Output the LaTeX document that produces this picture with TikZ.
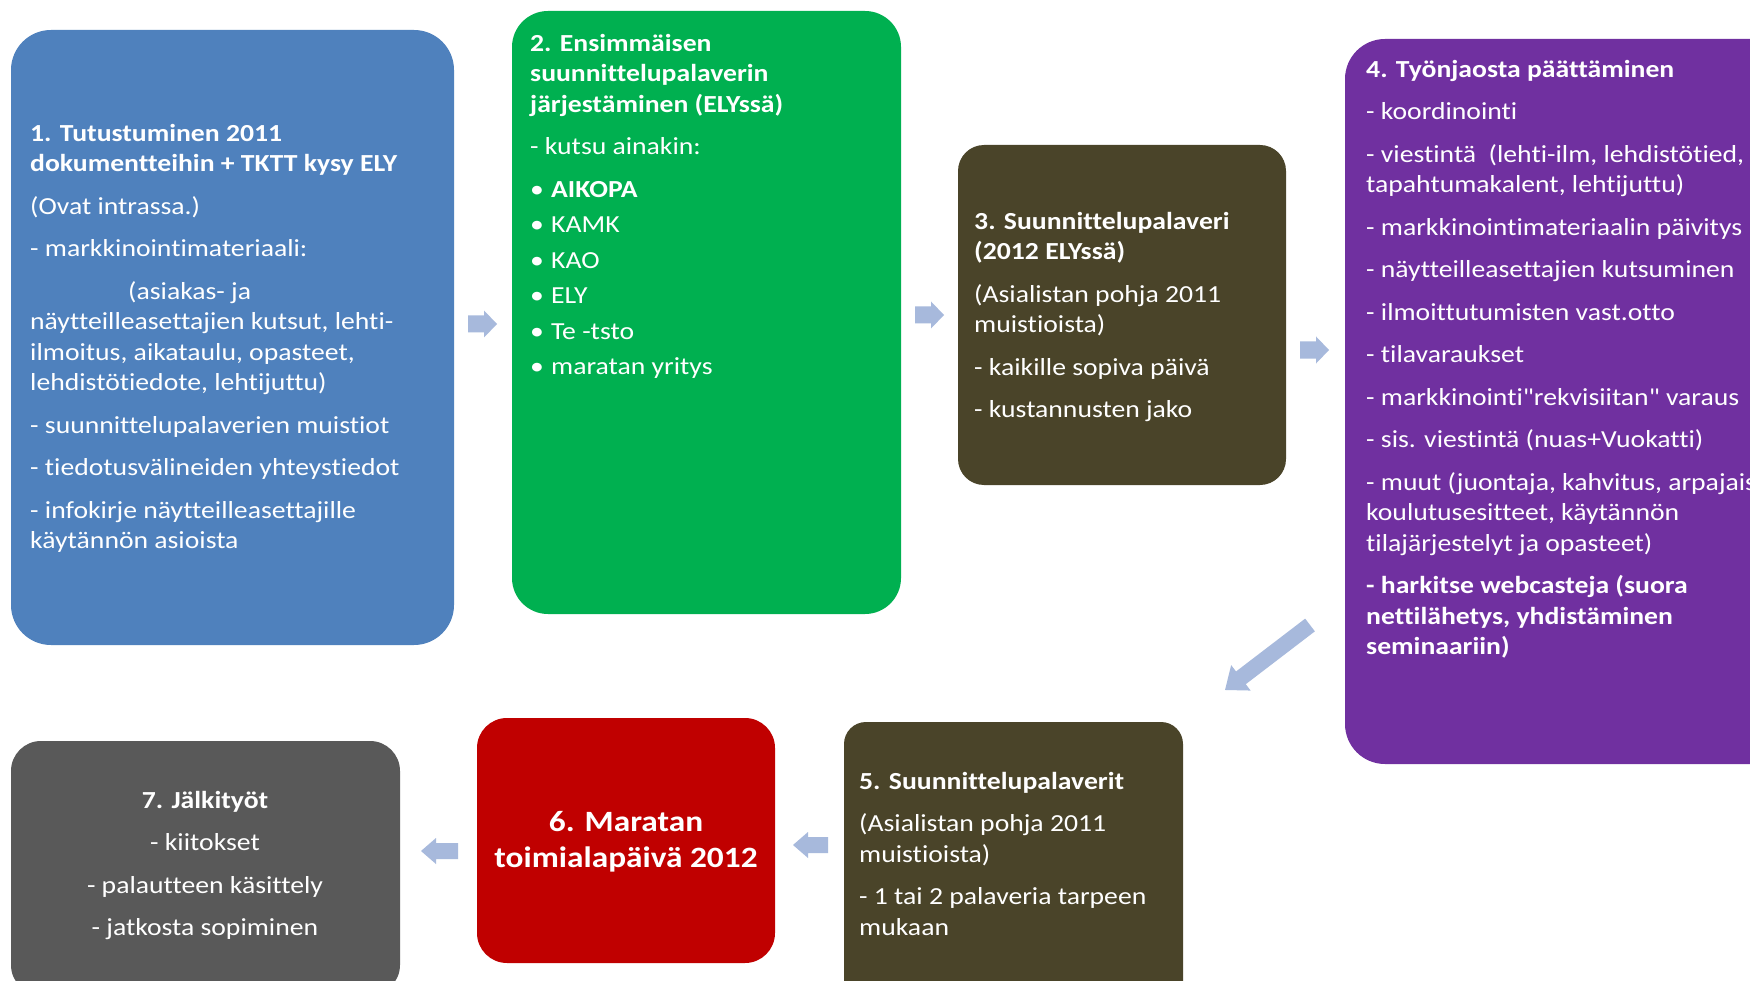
\documentclass[tikz,border=0pt]{standalone}
\usepackage{fontspec}
\setmainfont{Carlito}[FakeStretch=1.13, Ligatures={NoCommon,TeXOff}]

% stage colours
\definecolor{boxblue}{HTML}{4F81BD}
\definecolor{boxgreen}{HTML}{00B050}
\definecolor{boxolive}{HTML}{4A4429}
\definecolor{boxpurple}{HTML}{7030A0}
\definecolor{boxred}{HTML}{C00000}
\definecolor{boxgrey}{HTML}{595959}
\definecolor{arrowfill}{HTML}{A7B9DC}

% block arrow pointing along +x from the origin:
% #1 length, #2 head length, #3 half shaft width, #4 half head width
\newcommand\flowarrowshape[4]{%
  \fill[arrowfill] (0,-#3) -- ({#1-#2},-#3) -- ({#1-#2},-#4) -- (#1,0)
    -- ({#1-#2},#4) -- ({#1-#2},#3) -- (0,#3) -- cycle;}
\newcommand\stagebullet{\makebox[21pt][l]{•}}

\tikzset{
  stagebox/.style={draw=none, inner sep=0pt, outer sep=0pt, rectangle},
  stagetext/.style={text=white, inner sep=0pt, anchor=north west, align=left,
    font=\fontsize{24.5}{30.5}\selectfont},
  centertext/.style={text=white, inner sep=0pt, anchor=center, align=center,
    font=\fontsize{24.5}{30.5}\selectfont},
}

\begin{document}
\begin{tikzpicture}[x=1pt,y=-1pt]
\useasboundingbox (0,0) rectangle (1750,981);
\fill[white] (0,0) rectangle (1750,981);
\clip (0,0) rectangle (1750,981);

% stage boxes
\node[stagebox, fill=boxblue,   rounded corners=40pt, minimum width=443pt, minimum height=615pt] (b1) at (232.5,337.5) {};
\node[stagebox, fill=boxgreen,  rounded corners=36pt, minimum width=389pt, minimum height=603pt] (b2) at (706.5,312.5) {};
\node[stagebox, fill=boxolive,  rounded corners=26pt, minimum width=328pt, minimum height=340pt] (b3) at (1122,315) {};
\node[stagebox, fill=boxpurple, rounded corners=40pt, minimum width=445pt, minimum height=725pt] (b4) at (1567.5,401.5) {};
\node[stagebox, fill=boxolive,  rounded corners=22pt, minimum width=339pt, minimum height=288pt] (b5) at (1013.5,866) {};
\node[stagebox, fill=boxred,    rounded corners=30pt, minimum width=298pt, minimum height=245pt] (b6) at (626,840.5) {};
\node[stagebox, fill=boxgrey,   rounded corners=30pt, minimum width=389pt, minimum height=254pt] (b7) at (205.5,868) {};

% stage texts
\node[stagetext] (t1) at (30,124) {%
  \textbf{1. Tutustuminen 2011}\\
  \textbf{dokumentteihin + TKTT kysy ELY}\\[12pt]
  (Ovat intrassa.)\\[12pt]
  - markkinointimateriaali:\\[12pt]
  \hspace*{98pt}(asiakas- ja\\
  näytteilleasettajien kutsut, lehti-\\
  ilmoitus, aikataulu, opasteet,\\
  lehdistötiedote, lehtijuttu)\\[12pt]
  - suunnittelupalaverien muistiot\\[12pt]
  - tiedotusvälineiden yhteystiedot\\[12pt]
  - infokirje näytteilleasettajille\\
  käytännön asioista};

\node[stagetext] (t2) at (530,34) {%
  \textbf{2. Ensimmäisen}\\
  \textbf{suunnittelupalaverin}\\
  \textbf{järjestäminen (ELYssä)}\\[12pt]
  - kutsu ainakin:\\[12pt]
  \stagebullet\textbf{AIKOPA}\\[5pt]
  \stagebullet KAMK\\[5pt]
  \stagebullet KAO\\[5pt]
  \stagebullet ELY\\[5pt]
  \stagebullet Te -tsto\\[5pt]
  \stagebullet maratan yritys};

\node[stagetext] (t3) at (974,212) {%
  \textbf{3. Suunnittelupalaveri}\\
  \textbf{(2012 ELYssä)}\\[12pt]
  (Asialistan pohja 2011\\
  muistioista)\\[12pt]
  - kaikille sopiva päivä\\[12pt]
  - kustannusten jako};

\node[stagetext] (t4) at (1366,60) {%
  \textbf{4. Työnjaosta päättäminen}\\[12pt]
  - koordinointi\\[12pt]
  - viestintä\ \ (lehti-ilm, lehdistötied,\\
  tapahtumakalent, lehtijuttu)\\[12pt]
  - markkinointimateriaalin päivitys\\[12pt]
  - näytteilleasettajien kutsuminen\\[12pt]
  - ilmoittutumisten vast.otto\\[12pt]
  - tilavaraukset\\[12pt]
  - markkinointi"rekvisiitan" varaus\\[12pt]
  - sis. viestintä (nuas+Vuokatti)\\[12pt]
  - muut (juontaja, kahvitus, arpajaiset,\\
  koulutusesitteet, käytännön\\
  tilajärjestelyt ja opasteet)\\[12pt]
  \textbf{- harkitse webcasteja (suora}\\
  \textbf{nettilähetys, yhdistäminen}\\
  \textbf{seminaariin)}};

\node[stagetext] (t5) at (859,772) {%
  \textbf{5. Suunnittelupalaverit}\\[12pt]
  (Asialistan pohja 2011\\
  muistioista)\\[12pt]
  - 1 tai 2 palaveria tarpeen\\
  mukaan};

\node[centertext, font=\fontsize{29.5}{36}\selectfont\bfseries] (t6) at (626,842) {%
  6. Maratan\\
  toimialapäivä 2012};

\node[centertext] (t7) at (205,865.5) {%
  \textbf{7. Jälkityöt}\\[12pt]
  - kiitokset\\[12pt]
  - palautteen käsittely\\[12pt]
  - jatkosta sopiminen};

% flow arrows between the stages
\coordinate (a12) at (468,324);
\coordinate (a23) at (915,315);
\coordinate (a34) at (1300,350);
\coordinate (a45) at (1310,625);
\coordinate (a56) at (828,845);
\coordinate (a67) at (458,851);

\begin{scope}[shift={(a12)}]\flowarrowshape{29}{13}{8.5}{13.5}\end{scope}
\begin{scope}[shift={(a23)}]\flowarrowshape{29}{13}{8.5}{13.5}\end{scope}
\begin{scope}[shift={(a34)}]\flowarrowshape{29}{13}{8.5}{13.5}\end{scope}
\begin{scope}[shift={(a45)}, rotate=217.4]\flowarrowshape{107}{20}{8}{16}\end{scope}
\begin{scope}[shift={(a56)}, rotate=180]\flowarrowshape{35}{15}{8}{13}\end{scope}
\begin{scope}[shift={(a67)}, rotate=180]\flowarrowshape{37}{15}{8}{13}\end{scope}
\end{tikzpicture}
\end{document}
